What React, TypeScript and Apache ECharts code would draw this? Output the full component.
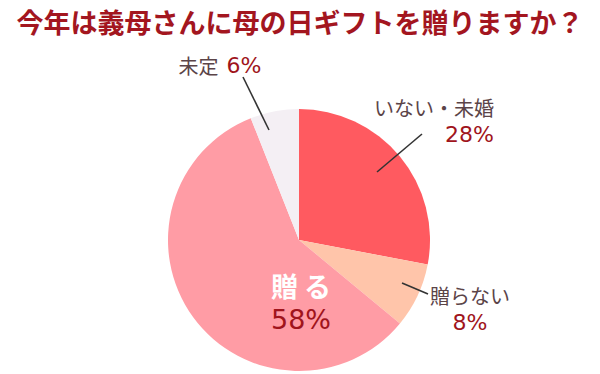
import React, { useEffect, useRef } from "react";
import * as echarts from "echarts";

const titleText = "今年は義母さんに母の日ギフトを贈りますか？";
const categories = ["いない・未婚", "贈らない", "贈る", "未定"];
const values = [28, 8, 58, 6];
const colors = ["#FF5A60", "#FFC5AA", "#FF9CA5", "#F4EFF4"];

// label layout (positions only)
const labelPos: Record<number, any> = {
  0: { x: 494, y: 121, align: "right" },
  1: { x: 470, y: 309, align: "center" },
  2: { x: 301, y: 302, align: "center" },
  3: { x: 220, y: 65, align: "center" },
};
const leaderLines = [
  [377, 172, 422, 134],
  [402, 283, 428, 294],
  [269, 130, 243, 77],
];

const FONT = "'Noto Sans CJK JP', 'Noto Sans', sans-serif";
const NUMFONT = "'DejaVu Sans', sans-serif";

export default function App() {
  const ref = useRef<HTMLDivElement>(null);
  useEffect(() => {
    if (!ref.current) return;
    const chart = echarts.init(ref.current, undefined, { renderer: "svg" });
    const data = categories.map((name, i) => {
      const item: any = { name, value: values[i], itemStyle: { color: colors[i] } };
      if (i === 2) {
        item.label = { formatter: (p: any) => `{w|${p.name.split("").join(" ")}}\n{q|${p.value}%}` };
      } else if (i === 3) {
        item.label = { formatter: "{n|{b}}   {p|{c}%}" };
      } else {
        item.label = { formatter: "{n|{b}}\n{p|{c}%}" };
      }
      return item;
    });
    chart.setOption({
      animation: false,
      title: {
        text: titleText,
        left: "center",
        top: 3,
        textStyle: { fontFamily: FONT, fontSize: 27, fontWeight: "bold", color: "#A3161F" },
      },
      graphic: leaderLines.map((l) => ({
        type: "line",
        shape: { x1: l[0], y1: l[1], x2: l[2], y2: l[3] },
        style: { stroke: "#333333", lineWidth: 1.6 },
        z: 100,
      })),
      series: [
        {
          type: "pie",
          center: [299, 240],
          radius: 131,
          startAngle: 90,
          clockwise: true,
          data,
          label: {
            show: true,
            position: "outside",
            fontFamily: FONT,
            rich: {
              n: { fontFamily: FONT, fontSize: 20, color: "#5B4448", lineHeight: 27 },
              p: { fontFamily: NUMFONT, fontSize: 22, color: "#A0141C", lineHeight: 27 },
              w: { fontFamily: FONT, fontSize: 27, fontWeight: "bold", color: "#FFFFFF", lineHeight: 34 },
              q: { fontFamily: NUMFONT, fontSize: 27, color: "#A0141C", lineHeight: 34 },
            },
          },
          labelLine: { show: false },
          labelLayout: (params: any) => {
            const p = labelPos[params.dataIndex];
            return { x: p.x, y: p.y, align: p.align, verticalAlign: "middle" };
          },
          emphasis: { disabled: true },
        },
      ],
    });
    return () => chart.dispose();
  }, []);
  return (
    <div
      ref={ref}
      style={{ position: "fixed", left: 0, top: 0, width: 600, height: 374, background: "#fff" }}
    />
  );
}
